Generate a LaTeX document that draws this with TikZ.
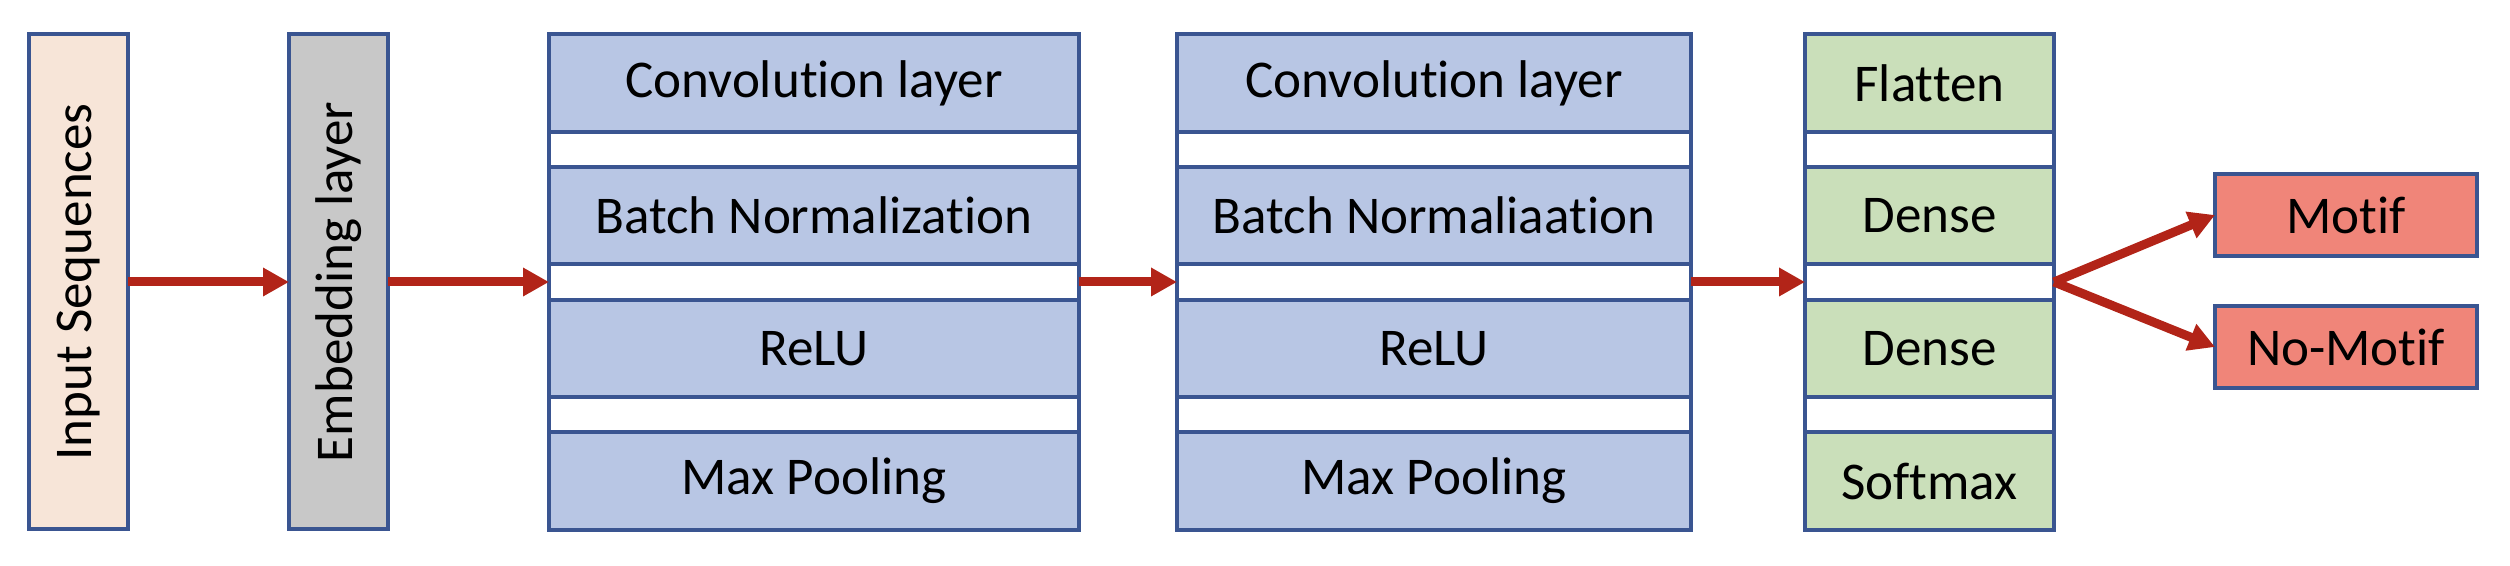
\documentclass[tikz,border=0pt]{standalone}
\usepackage{fontspec}
\setmainfont[Ligatures=NoCommon]{Carlito}
\usetikzlibrary{arrows.meta}
\definecolor{edgeblue}{HTML}{3A5591}
\definecolor{inpeach}{HTML}{F7E5D8}
\definecolor{embgray}{HTML}{C8C8C8}
\definecolor{convblue}{HTML}{B8C6E4}
\definecolor{densegreen}{HTML}{CADFBA}
\definecolor{outred}{HTML}{F08579}
\definecolor{arrred}{HTML}{B22418}
\tikzset{
  frame/.style={draw=edgeblue, line width=0.4mm, fill=white, inner sep=0pt, outer sep=0pt},
  cell/.style={draw=edgeblue, line width=0.4mm, inner sep=0pt, outer sep=0pt, minimum height=9.775mm, font=\fontsize{15.1pt}{17pt}\selectfont},
  vbox/.style={draw=edgeblue, line width=0.4mm, inner sep=0pt, outer sep=0pt, minimum width=9.9mm, minimum height=49.5mm},
  vlabel/.style={rotate=90, font=\fontsize{15.1pt}{17pt}\selectfont},
  flow/.style={draw=arrred, line width=0.9mm, -{Triangle[length=2.6mm, width=2.7mm]}}
}
\begin{document}
\begin{tikzpicture}[x=0.1mm, y=-0.1mm]
\useasboundingbox (0,0) rectangle (2510,566);
% input and embedding
\node[vbox, fill=inpeach] (inp) at (78.5,282) {};
\node[vlabel] (inptxt) at (inp.center) {Input Sequences};
\node[vbox, fill=embgray] (emb) at (338.5,282) {};
\node[vlabel] (embtxt) at (emb.center) {Embedding layer};
% conv block 1
\node[frame, minimum width=53mm, minimum height=49.6mm] (c1) at (814,282) {};
\node[cell, fill=convblue, minimum width=53mm] (c1a) at (814,82.9) {Convolution layer};
\node[cell, fill=convblue, minimum width=53mm] (c1b) at (814,215.6) {Batch Normalization};
\node[cell, fill=convblue, minimum width=53mm] (c1c) at (814,348.4) {ReLU};
\node[cell, fill=convblue, minimum width=53mm] (c1d) at (814,481.1) {Max Pooling};
% conv block 2
\node[frame, minimum width=51.4mm, minimum height=49.6mm] (c2) at (1434,282) {};
\node[cell, fill=convblue, minimum width=51.4mm] (c2a) at (1434,82.9) {Convolution layer};
\node[cell, fill=convblue, minimum width=51.4mm] (c2b) at (1434,215.6) {Batch Normaliaation};
\node[cell, fill=convblue, minimum width=51.4mm] (c2c) at (1434,348.4) {ReLU};
\node[cell, fill=convblue, minimum width=51.4mm] (c2d) at (1434,481.1) {Max Pooling};
% dense block
\node[frame, minimum width=24.9mm, minimum height=49.6mm] (d) at (1929.5,282) {};
\node[cell, fill=densegreen, minimum width=24.9mm] (da) at (1929.5,82.9) {Flatten};
\node[cell, fill=densegreen, minimum width=24.9mm] (db) at (1929.5,215.6) {Dense};
\node[cell, fill=densegreen, minimum width=24.9mm] (dc) at (1929.5,348.4) {Dense};
\node[cell, fill=densegreen, minimum width=24.9mm] (dd) at (1929.5,481.1) {Softmax};
% outputs
\node[cell, fill=outred, minimum width=26.2mm, minimum height=8.2mm] (mot) at (2346,215) {Motif};
\node[cell, fill=outred, minimum width=26.2mm, minimum height=8.2mm] (nomot) at (2346,347) {No-Motif};
% arrows
\draw[flow] (inp.east) -- (emb.west);
\draw[flow] (emb.east) -- (c1.west);
\draw[flow] (c1.east) -- (c2.west);
\draw[flow] (c2.east) -- (d.west);
\draw[flow] (d.east) -- (mot.west);
\draw[flow] (d.east) -- (nomot.west);
\end{tikzpicture}
\end{document}
